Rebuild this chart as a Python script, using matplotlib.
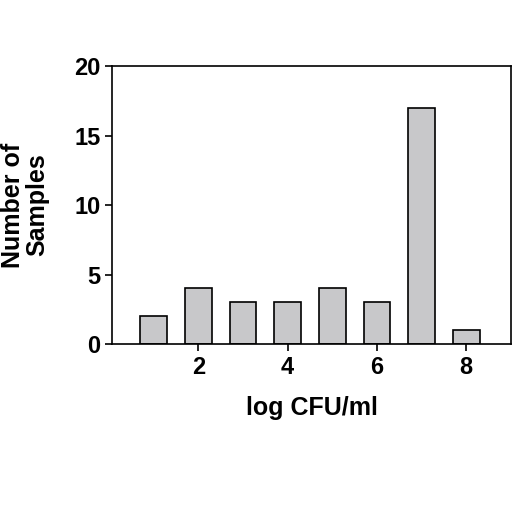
import matplotlib
matplotlib.use("Agg")
import matplotlib.pyplot as plt

plt.rcParams["font.family"] = ["Liberation Sans", "DejaVu Sans"]

log_cfu = [1, 2, 3, 4, 5, 6, 7, 8]
samples = [2, 4, 3, 3, 4, 3, 17, 1]
x_ticks = [2, 4, 6, 8]
y_ticks = [0, 5, 10, 15, 20]

fig = plt.figure(figsize=(5.12, 5.12), dpi=100)
ax = fig.add_axes([0.219, 0.328, 0.779, 0.543])
ax.bar(log_cfu, samples, width=0.6, color="#c8c8ca", edgecolor="black", linewidth=1.2)
ax.set_xlim(0.07, 9.0)
ax.set_ylim(0, 20)
ax.set_xticks(x_ticks)
ax.set_yticks(y_ticks)
ax.tick_params(direction="out", length=5, width=1.2, labelsize=17)
for lab in ax.get_xticklabels() + ax.get_yticklabels():
    lab.set_fontweight("bold")
for s in ax.spines.values():
    s.set_linewidth(1.2)
ax.set_xlabel("log CFU/ml", fontsize=18, fontweight="bold", labelpad=12)
ax.set_ylabel("Number of\nSamples", fontsize=18, fontweight="bold", labelpad=18, linespacing=1.0)
fig.savefig("out.png", dpi=100)
